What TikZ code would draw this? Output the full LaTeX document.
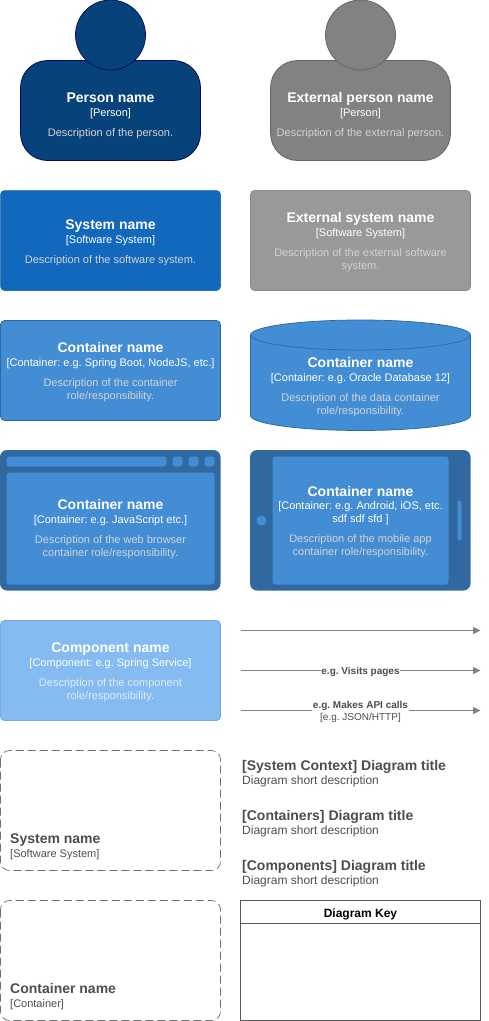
\documentclass[tikz,border=0pt]{standalone}
\usepackage{fontspec}
\setmainfont{Liberation Sans}
\usepackage{tikz}
\usetikzlibrary{arrows.meta}
\definecolor{personblue}{HTML}{08427B}
\definecolor{personedge}{HTML}{000B5C}
\definecolor{extperson}{HTML}{828282}
\definecolor{extpersonedge}{HTML}{646464}
\definecolor{systemblue}{HTML}{1168BD}
\definecolor{extsystem}{HTML}{999999}
\definecolor{extsystemedge}{HTML}{8A8A8A}
\definecolor{containerblue}{HTML}{438DD5}
\definecolor{containeredge}{HTML}{3268A0}
\definecolor{componentblue}{HTML}{85BBF0}
\definecolor{componentedge}{HTML}{78A8D8}
\definecolor{softgrey}{HTML}{D4D4D4}
\definecolor{softblue}{HTML}{E2ECF6}
\definecolor{darktext}{HTML}{4D4D4D}
\definecolor{arrowgrey}{HTML}{828282}
\definecolor{boundaryedge}{HTML}{6E6E6E}
\newcommand{\namefont}[1]{{\fontsize{14}{16}\selectfont\bfseries #1}}
\newcommand{\typefont}[1]{{\fontsize{11}{13}\selectfont #1}}
\newcommand{\descfont}[1]{{\fontsize{11}{13}\selectfont\color{softgrey} #1}}
\newcommand{\notefont}[1]{{\fontsize{12}{14}\selectfont #1}}
\tikzset{
    boxtext/.style={text=white,align=center,inner sep=0pt,font=\fontsize{11}{13}\selectfont},
    darklabel/.style={text=darktext,align=left,anchor=west,inner sep=0pt,font=\fontsize{11}{13}\selectfont},
    linelabel/.style={fill=white,text=darktext,align=center,inner sep=0.5pt,font=\fontsize{10}{12}\selectfont},
    relation/.style={draw=arrowgrey,line width=0.75pt,-{Triangle[length=7.5pt,width=7pt]}},
    boundary/.style={draw=boundaryedge,line width=0.75pt,dash pattern=on 8pt off 4pt,rounded corners=9pt},
}
\begin{document}
\frenchspacing
\begin{tikzpicture}[x=1pt,y=-1pt]
    \useasboundingbox (0,0) rectangle (489,1021);
    % people
    \draw[fill=personblue,draw=personedge,line width=0.75pt,rounded corners=27pt] (20.5,60.5) rectangle (200.5,160.5);
    \draw[fill=personblue,draw=personedge,line width=0.75pt] (110.5,35) circle (35);
    \node[boxtext] (person) at (110.5,116) {\namefont{Person name}\\[1pt]\typefont{[Person]}\\[7pt]\descfont{Description of the person.}};
    \draw[fill=extperson,draw=extpersonedge,line width=0.75pt,rounded corners=27pt] (270.5,60.5) rectangle (450.5,160.5);
    \draw[fill=extperson,draw=extpersonedge,line width=0.75pt] (360.5,35) circle (35);
    \node[boxtext] (extperson) at (360.5,116) {\namefont{External person name}\\[1pt]\typefont{[Person]}\\[7pt]\descfont{Description of the external person.}};
    % systems
    \draw[fill=systemblue,draw=systemblue!90!black,line width=0.5pt,rounded corners=4pt] (0.5,190.5) rectangle (220.5,290.5);
    \node[boxtext] (system) at (110.5,243) {\namefont{System name}\\[1pt]\typefont{[Software System]}\\[7pt]\descfont{Description of the software system.}};
    \draw[fill=extsystem,draw=extsystemedge,line width=0.75pt,rounded corners=4pt] (250.5,190.5) rectangle (470.5,290.5);
    \node[boxtext] (extsystem) at (360.5,242.5) {\namefont{External system name}\\[1pt]\typefont{[Software System]}\\[7pt]\descfont{Description of the external software}\\\descfont{system.}};
    % containers
    \draw[fill=containerblue,draw=containeredge,line width=0.75pt,rounded corners=4pt] (0.5,320.5) rectangle (220.5,420.5);
    \node[boxtext] (container) at (110.5,372.5) {\namefont{Container name}\\[1pt]\typefont{[Container: e.g. Spring Boot, NodeJS, etc.]}\\[7pt]\descfont{Description of the container}\\\descfont{role/responsibility.}};
    \draw[fill=containerblue,draw=containeredge,line width=0.75pt] (250.5,335) arc (180:360:110 and 15) -- (470.5,415.5) arc (0:180:110 and 15) -- cycle;
    \draw[draw=containeredge,line width=0.75pt] (250.5,335) arc (180:0:110 and 15);
    \node[boxtext] (database) at (360.5,387.5) {\namefont{Container name}\\[1pt]\typefont{[Container: e.g. Oracle Database 12]}\\[7pt]\descfont{Description of the data container}\\\descfont{role/responsibility.}};
    % browser
    \fill[containeredge,rounded corners=7pt] (0,450) rectangle (220.5,590.5);
    \fill[containerblue,rounded corners=3pt] (6.5,456.5) rectangle (166.5,466.5);
    \fill[containerblue,rounded corners=3pt] (172.5,456.5) rectangle (182.5,466.5);
    \fill[containerblue,rounded corners=3pt] (188.5,456.5) rectangle (198.5,466.5);
    \fill[containerblue,rounded corners=3pt] (204.5,456.5) rectangle (214.5,466.5);
    \fill[containerblue,rounded corners=3pt] (6.5,472.5) rectangle (214.5,584.5);
    \node[boxtext] (browser) at (110.5,529.5) {\namefont{Container name}\\[1pt]\typefont{[Container: e.g. JavaScript etc.]}\\[7pt]\descfont{Description of the web browser}\\\descfont{container role/responsibility.}};
    % mobile
    \fill[containeredge,rounded corners=7pt] (250,450) rectangle (470.5,590.5);
    \fill[containerblue,rounded corners=3pt] (272.5,456.5) rectangle (448.5,584.5);
    \fill[containerblue] (261.5,520.5) circle (5);
    \fill[containerblue,rounded corners=1.5pt] (457.5,500.5) rectangle (461.5,540.5);
    \node[boxtext] (mobile) at (360.5,522.5) {\namefont{Container name}\\[0pt]\typefont{[Container: e.g. Android, iOS, etc.}\\\typefont{sdf sdf sfd ]}\\[7pt]\descfont{Description of the mobile app}\\\descfont{container role/responsibility.}};
    % component
    \draw[fill=componentblue,draw=componentedge,line width=0.75pt,rounded corners=4pt] (0.5,620.5) rectangle (220.5,720.5);
    \node[boxtext] (component) at (110.5,672.5) {\namefont{Component name}\\[1pt]\typefont{[Component: e.g. Spring Service]}\\[7pt]{\fontsize{11}{13}\selectfont\color{softblue} Description of the component}\\{\fontsize{11}{13}\selectfont\color{softblue} role/responsibility.}};
    % relations
    \coordinate (plainfrom) at (240.5,630.5);
    \coordinate (plainto) at (480.5,630.5);
    \coordinate (visitsfrom) at (240.5,670.5);
    \coordinate (visitsto) at (480.5,670.5);
    \coordinate (callsfrom) at (240.5,710.5);
    \coordinate (callsto) at (480.5,710.5);
    \draw[relation] (plainfrom) -- (plainto);
    \draw[relation] (visitsfrom) -- node[linelabel,yshift=-1pt] (visits) {\textbf{e.g. Visits pages}} (visitsto);
    \draw[relation] (callsfrom) -- node[linelabel,yshift=-1.5pt] (calls) {\textbf{e.g. Makes API calls}\\{[e.g. JSON/HTTP]}} (callsto);
    % boundaries
    \draw[boundary] (0.5,750.5) rectangle (220.5,870.5);
    \node[darklabel] (systemboundary) at (10,846.5) {\namefont{System name}\\[1pt]\typefont{[Software System]}};
    \draw[boundary] (0.5,900.5) rectangle (220.5,1020.5);
    \node[darklabel] (containerboundary) at (10,996.5) {\namefont{Container name}\\[1pt]\typefont{[Container]}};
    % titles
    \node[darklabel] (contexttitle) at (242,773.5) {\namefont{[System Context] Diagram title}\\[1pt]\notefont{Diagram short description}};
    \node[darklabel] (containerstitle) at (242,823.5) {\namefont{[Containers] Diagram title}\\[1pt]\notefont{Diagram short description}};
    \node[darklabel] (componentstitle) at (242,873.5) {\namefont{[Components] Diagram title}\\[1pt]\notefont{Diagram short description}};
    % key
    \draw[draw=black!65,line width=0.75pt] (240.5,900.5) rectangle (480.5,1020.5);
    \draw[draw=black!65,line width=0.75pt] (240.5,923.5) -- (480.5,923.5);
    \node[inner sep=0pt,font=\fontsize{12}{14}\selectfont\bfseries] (keytitle) at (360.5,914) {Diagram Key};
\end{tikzpicture}
\end{document}
